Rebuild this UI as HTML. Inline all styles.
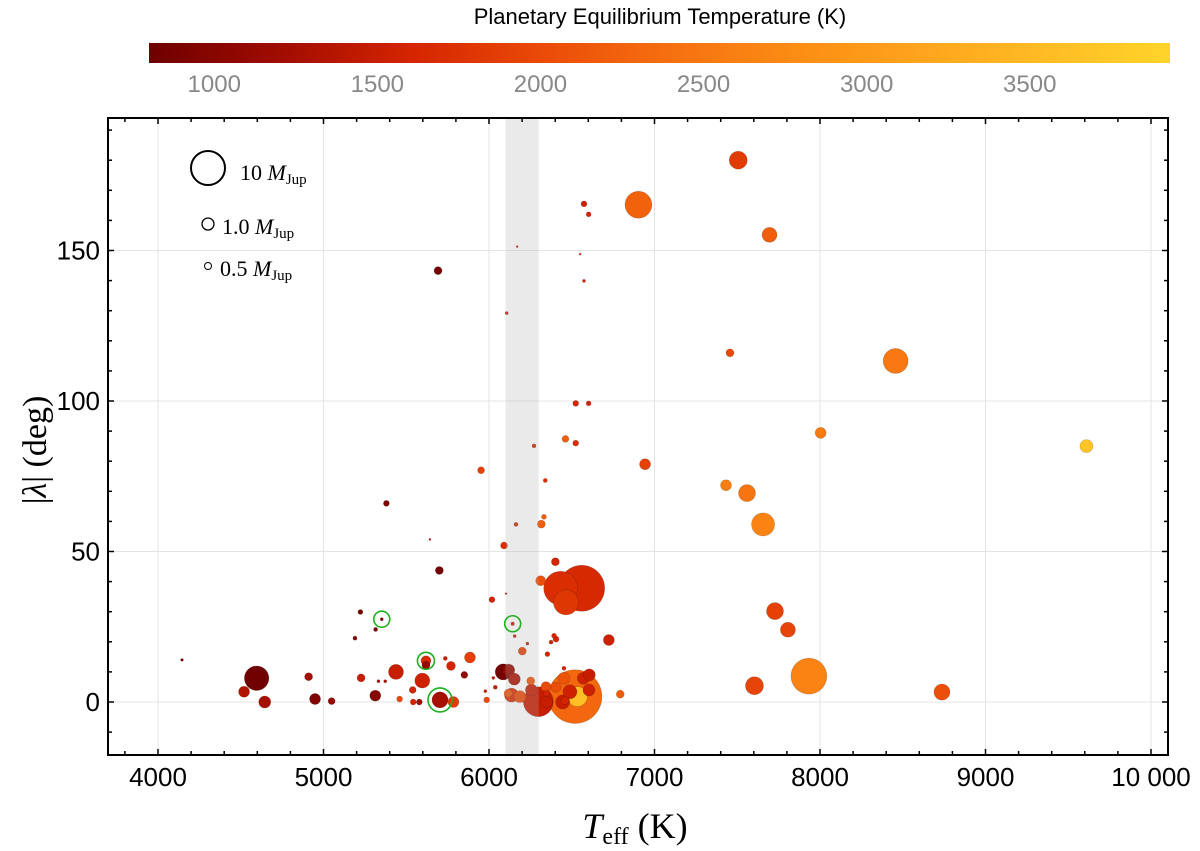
<!DOCTYPE html>
<html><head><meta charset="utf-8"><style>
body{margin:0;background:#fff;}
svg text{font-family:"Liberation Sans",sans-serif;}
</style></head><body>
<svg id="chart" width="1200" height="846" viewBox="0 0 1200 846" xmlns="http://www.w3.org/2000/svg">
<defs>
<linearGradient id="cg" x1="0" x2="1" y1="0" y2="0">
<stop offset="0" stop-color="#6e0000"/>
<stop offset="0.128" stop-color="#a00c00"/>
<stop offset="0.255" stop-color="#d42400"/>
<stop offset="0.383" stop-color="#ea4a08"/>
<stop offset="0.511" stop-color="#f67010"/>
<stop offset="0.639" stop-color="#fc8e14"/>
<stop offset="0.798" stop-color="#ffac20"/>
<stop offset="1" stop-color="#ffd42a"/>
</linearGradient>
</defs>
<text x="660" y="24" font-size="22" text-anchor="middle" fill="#000">Planetary Equilibrium Temperature (K)</text>
<rect x="149" y="43" width="1021" height="20" fill="url(#cg)"/>
<g id="cbticks"></g>
<g id="grid"></g>
<g id="marks"></g>
<rect id="band" fill="#acacac" opacity="0.25"/>
<g id="rings"></g>
<rect x="108" y="118" width="1060" height="637" fill="none" stroke="#000" stroke-width="2"/>
<g id="ticks"></g>
<g id="legend">
<circle cx="208" cy="168" r="17" fill="none" stroke="#000" stroke-width="2"/>
<text x="240" y="180" font-size="22" style="font-family:'Liberation Serif',serif">10 <tspan font-style="italic">M</tspan><tspan font-size="15" dy="4">Jup</tspan></text>
<circle cx="208" cy="224" r="6" fill="none" stroke="#000" stroke-width="1.3"/>
<text x="222" y="234" font-size="22" style="font-family:'Liberation Serif',serif">1.0 <tspan font-style="italic">M</tspan><tspan font-size="15" dy="4">Jup</tspan></text>
<circle cx="208" cy="266" r="3.5" fill="none" stroke="#000" stroke-width="1"/>
<text x="220" y="276" font-size="22" style="font-family:'Liberation Serif',serif">0.5 <tspan font-style="italic">M</tspan><tspan font-size="15" dy="4">Jup</tspan></text>
</g>
<text x="635" y="838" font-size="36" text-anchor="middle" style="font-family:'Liberation Serif',serif"><tspan font-style="italic">T</tspan><tspan font-size="24" dy="6">eff</tspan><tspan dy="-6"> (K)</tspan></text>
<text transform="translate(46,450) rotate(-90)" font-size="34" text-anchor="middle" style="font-family:'Liberation Serif',serif">|<tspan font-style="italic">λ</tspan>| (deg)</text>
</svg>
<script>
const teff=[4145,4596,4520,4645,4910,4949,5049,5223,5352,5315,5190,5700,5736,5885,5770,5619,5619,5438,5227,5332,5373,5597,5851,5539,5313,5460,5542,5579,5704,5785,5978,5986,6038,6026,5692,6170,5380,5643,
7506,6903,7695,7456,8457,8004,9610,6943,7432,7559,7656,7728,7806,6724,7933,7604,8737,6793,
6574,6602,6551,6574,6107,6524,6602,6272,6462,6524,5952,6340,6332,6316,6163,6091,6018,6103,
6401,6560,6433,6465,6312,6143,6155,6232,6201,6393,6405,6375,6353,6453,6086,6119,6153,6252,6256,6136,6187,6116,6298,6348,6348,6344,6520,6445,6489,6570,6606,6604,6453,6405,6460,6534];
const lambda=[14,7.9,3.4,0,8.4,1,0.3,29.9,27.5,24.1,21.2,43.7,14.5,14.8,12,13.7,12.2,10,8,6.9,6.9,7.1,9,4,2.1,1,0,0,0.7,0,3.6,0.7,4.9,8,143.3,151.3,66,54,
180,165.2,155.2,116,113.3,89.4,85,79,72,69.4,59,30.2,24,20.6,8.6,5.4,3.3,2.6,
165.5,162,148.8,139.9,129.2,99.2,99.2,85.1,87.4,86,77,73.6,61.5,59.1,59,52,34,36,
46.6,37.8,37.8,33.1,40.3,26,21.9,19.4,16.9,22,20.9,19.9,15.9,11.2,10,10.6,7.6,7,4,2.3,1.8,2.9,0.1,0,2.9,5.1,1.8,0,3.4,7.9,9,4,7.9,4.9,0.5,1.8];
const mass=[0.04,4.9,0.82,1,0.41,0.82,0.3,0.14,0.05,0.09,0.09,0.41,0.09,0.82,0.53,0.67,0.41,1.64,0.41,0.05,0.05,1.64,0.3,0.3,0.82,0.21,0.21,0.21,1.9,0.82,0.05,0.21,0.09,0.05,0.41,0.02,0.21,0.02,
2.46,6.05,1.64,0.41,5.1,0.82,1.2,0.82,0.82,2.17,4.3,2.17,1.64,0.82,11.5,2.46,1.9,0.41,
0.21,0.14,0.02,0.05,0.05,0.21,0.14,0.09,0.3,0.21,0.3,0.09,0.14,0.41,0.09,0.3,0.21,0.02,
0.41,19.8,10.1,5.1,0.67,0.07,0.05,0.05,0.41,0.14,0.21,0.09,0.14,0.09,1.9,1,1,0.41,1,1.41,1,0.41,7.65,1,0.21,0.67,28,1.41,1.41,1,1,1,1,0.67,0.41,3.1];
const teq=[900,820,1350,1250,1250,950,1100,900,950,950,1000,850,1500,1900,1600,1650,1100,1500,1500,1300,1300,1550,1100,1600,1000,2000,1600,1200,1250,1850,1500,2000,1500,1500,850,1500,900,1300,
1850,2250,2200,2000,2500,2550,3700,1900,2600,2450,2650,1900,1950,1550,2650,1950,2050,2200,
1550,1600,1600,1600,1500,1600,1600,1600,2200,1700,1900,1700,2200,2200,1600,1700,1600,1500,
1600,1650,1700,1800,2050,1500,1500,1500,1900,1600,1600,1600,1600,1600,850,1100,1300,2100,1500,1700,2000,2100,1500,1500,1600,2000,2300,1500,1550,1550,1500,1550,2100,2050,1600,3600];
const rings=[[5352,27.5,8],[5619,13.7,8.5],[5704,0.7,12],[6143,26,8]];
const xTicks=[4000,5000,6000,7000,8000,9000,10000];
const xTickLabels=["4000","5000","6000","7000","8000","9000","10 000"];
const yTicks=[0,50,100,150];
const cbTicks=[1000,1500,2000,2500,3000,3500];
const band=[6100,6300];

const NS="http://www.w3.org/2000/svg";
const X=t=>158+(t-4000)*0.1655;
const Y=l=>702-3.01*l;
const R=m=>6*Math.pow(m,0.45);
const CBX=t=>149+(t-800)/(3930-800)*1021;
const stops=[[800,[110,0,0]],[1200,[160,12,0]],[1600,[212,36,0]],[2000,[234,74,8]],[2400,[246,112,16]],[2800,[252,142,20]],[3300,[255,172,32]],[3930,[255,212,42]]];
function col(t){
  if(t<=stops[0][0])return 'rgb('+stops[0][1]+')';
  for(let i=1;i<stops.length;i++){if(t<=stops[i][0]){const a=stops[i-1],b=stops[i],f=(t-a[0])/(b[0]-a[0]);return 'rgb('+a[1].map((v,k)=>Math.round(v+(b[1][k]-v)*f)).join(',')+')';}}
  return 'rgb('+stops[stops.length-1][1]+')';
}
function mk(tag,attrs,parent){const e=document.createElementNS(NS,tag);for(const k in attrs)e.setAttribute(k,attrs[k]);parent.appendChild(e);return e;}

const grid=document.getElementById('grid');
xTicks.forEach((t,i)=>{
  const l=mk('line',{x1:X(t),x2:X(t),y1:118,y2:755,stroke:'#e4e4e4','stroke-width':1},grid);
  
  
  const tx=mk('text',{x:X(t),y:786,'font-size':26,'text-anchor':'middle',fill:'#000'},grid);
  tx.textContent=xTickLabels[i];
  
  
});
yTicks.forEach(v=>{
  const l=mk('line',{x1:108,x2:1168,y1:Y(v),y2:Y(v),stroke:'#e4e4e4','stroke-width':1},grid);
  
  
  const tx=mk('text',{x:100,y:Y(v)+9,'font-size':26,'text-anchor':'end',fill:'#000'},grid);
  tx.textContent=String(v);
  
  
});
const tk=document.getElementById('ticks');
for(let t=3800;t<=10000;t+=200){const x=X(t);if(x<109||x>1167)continue;const L=(t%1000===0)?6:4;
  mk('line',{x1:x,x2:x,y1:755,y2:755-L,stroke:'#000','stroke-width':1.5},tk);
  mk('line',{x1:x,x2:x,y1:118,y2:118+L,stroke:'#000','stroke-width':1.5},tk);}
for(let v=-10;v<=190;v+=10){const y=Y(v);const L=(v%50===0)?6:4;
  mk('line',{x1:108,x2:108+L,y1:y,y2:y,stroke:'#000','stroke-width':1.5},tk);
  mk('line',{x1:1168,x2:1168-L,y1:y,y2:y,stroke:'#000','stroke-width':1.5},tk);}

const cb=document.getElementById('cbticks');
cbTicks.forEach(t=>{
  const tx=mk('text',{x:CBX(t),y:92,'font-size':24,'text-anchor':'middle',fill:'#888'},cb);
  tx.textContent=String(t);
  
  
});

const bd=document.getElementById('band');
bd.setAttribute('x',X(band[0]));bd.setAttribute('width',X(band[1])-X(band[0]));
bd.setAttribute('y',119);bd.setAttribute('height',635);

const marks=document.getElementById('marks');
const idx=teff.map((_,i)=>i).sort((a,b)=>mass[b]-mass[a]);
idx.forEach(i=>{
  const c=mk('circle',{cx:X(teff[i]),cy:Y(lambda[i]),r:R(mass[i]),fill:col(teq[i]),stroke:'rgba(0,0,0,0.18)','stroke-width':0.7},marks);
  
  
});
const rg=document.getElementById('rings');
rings.forEach(r=>{
  const c=mk('circle',{cx:X(r[0]),cy:Y(r[1]),r:r[2],fill:'none',stroke:'#1fb01f','stroke-width':1.6},rg);
  
  
});
</script>
</body></html>
